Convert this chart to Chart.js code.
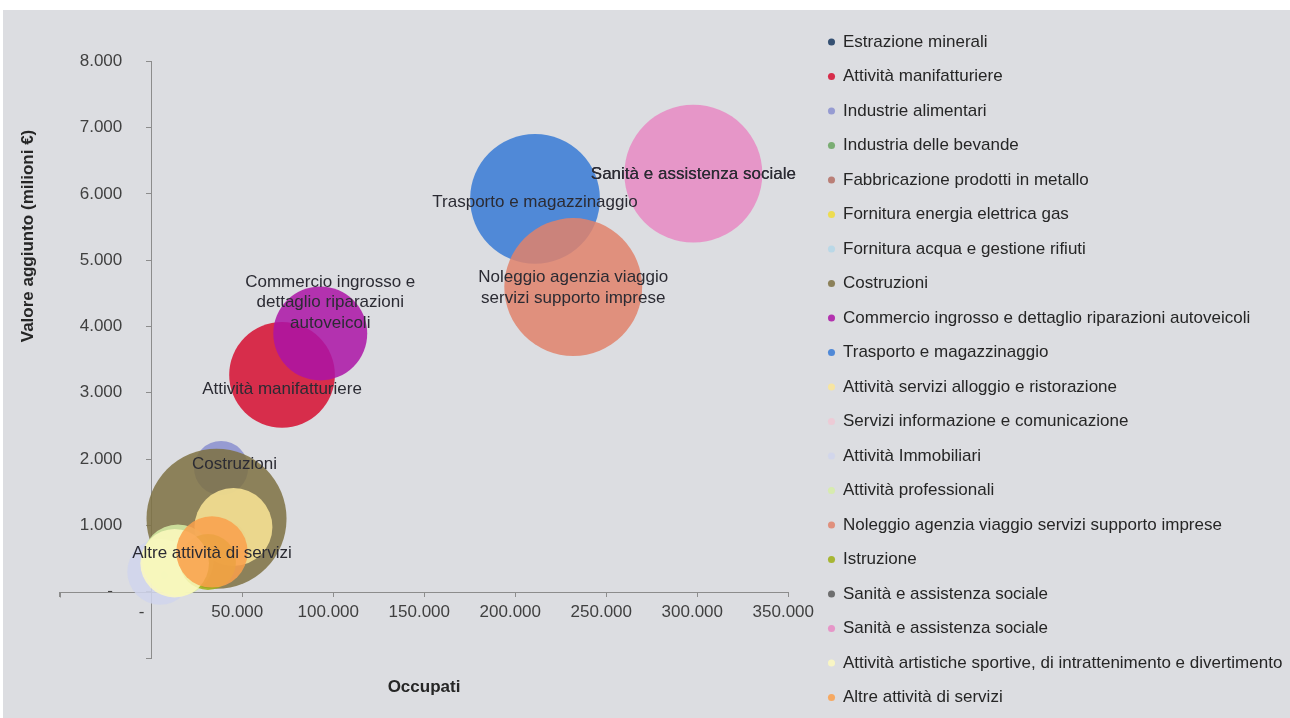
<!DOCTYPE html>
<html>
<head>
<meta charset="utf-8">
<script src="https://cdn.jsdelivr.net/npm/chart.js@4.4.1/dist/chart.umd.min.js"></script>
<style>
html,body{margin:0;padding:0;background:#ffffff;}
canvas{display:block;}
</style>
</head>
<body>
<canvas id="c" width="1290" height="718"></canvas>
<script>
// ---------------- data ----------------
const categories = [
  'Estrazione minerali',
  'Attività manifatturiere',
  'Industrie alimentari',
  'Industria delle bevande',
  'Fabbricazione prodotti in metallo',
  'Fornitura energia elettrica gas',
  'Fornitura acqua e gestione rifiuti',
  'Costruzioni',
  'Commercio ingrosso e dettaglio riparazioni autoveicoli',
  'Trasporto e magazzinaggio',
  'Attività servizi alloggio e ristorazione',
  'Servizi informazione e comunicazione',
  'Attività Immobiliari',
  'Attività professionali',
  'Noleggio agenzia viaggio servizi supporto imprese',
  'Istruzione',
  'Sanità e assistenza sociale',
  'Sanità e assistenza sociale',
  'Attività artistiche sportive, di intrattenimento e divertimento',
  'Altre attività di servizi'
];
// Occupati (x)
const occupati = [7700, 72000, 38500, 10400, 42300, 21500, 18500, 36000, 93000, 211000,
                  45300, 18500, 5000, 14800, 232000, 31300, 298000, 298000, 13000, 33500];
// Valore aggiunto, milioni € (y)
const valoreAggiunto = [250, 3270, 1865, 175, 780, 780, 330, 1100, 3895, 5925,
                        975, 475, 300, 475, 4595, 448, 6305, 6305, 430, 600];
// Bubble size (relative)
const dimensione = [0.4, 57, 15, 0.4, 6.6, 3, 4, 100, 45, 86,
                    31, 10, 22, 26, 97, 16, 0, 97, 24, 26];
// tick values
const xTickValues = [-50000, 0, 50000, 100000, 150000, 200000, 250000, 300000, 350000];
const yTickValues = [-1000, 0, 1000, 2000, 3000, 4000, 5000, 6000, 7000, 8000];
// axis titles
const xTitle = 'Occupati';
const yTitle = 'Valore aggiunto (milioni €)';
// series whose bubble carries a data label
const labelledSeries = [1, 7, 8, 9, 14, 16, 17, 19];

// ---------------- styles ----------------
const colors = [
  'rgba(23,55,94,0.85)',   'rgba(214,14,48,0.85)',   'rgba(137,143,207,0.85)', 'rgba(105,165,95,0.85)',
  'rgba(180,110,100,0.85)','rgba(240,220,55,0.85)',  'rgba(180,215,232,0.85)', 'rgba(126,113,66,0.85)',
  'rgba(172,20,166,0.85)', 'rgba(55,122,213,0.85)',  'rgba(252,230,150,0.85)', 'rgba(240,200,212,0.85)',
  'rgba(208,213,236,0.85)','rgba(214,237,166,0.85)', 'rgba(225,131,107,0.85)', 'rgba(158,175,20,0.85)',
  'rgba(90,90,90,0.85)',   'rgba(231,137,195,0.85)', 'rgba(253,249,190,0.85)', 'rgba(250,160,75,0.85)'
];
const MAX_RADIUS = 70;            // px radius of the largest bubble
const X_AXIS_MAX = 353846;        // room between last tick and legend
const labelOffsets = {1:[0,14], 7:[18,-54], 8:[10,-31], 9:[0,3], 14:[0,1], 16:[0,1], 17:[0,1], 19:[0,1]};
const labelWrap = {8:175, 14:195};
const FONT = "'Liberation Sans', Arial, Helvetica, sans-serif";
const AXIS_COLOR = '#8c8c8c';

function fmt(v) {
  return String(Math.abs(v)).replace(/\B(?=(\d{3})+(?!\d))/g, '.');
}

const datasets = categories.map((name, i) => ({
  label: name,
  data: [{x: occupati[i], y: valoreAggiunto[i], r: MAX_RADIUS * Math.sqrt(dimensione[i] / 100)}],
  backgroundColor: colors[i],
  borderWidth: 0,
  hoverBorderWidth: 0,
  clip: false,
  order: -i
}));

Chart.defaults.font.family = FONT;
Chart.defaults.font.size = 17;
Chart.defaults.color = '#404040';

const bgPlugin = {
  id: 'bg',
  beforeDraw(chart) {
    const ctx = chart.ctx;
    ctx.save();
    ctx.fillStyle = '#ffffff';
    ctx.fillRect(0, 0, chart.width, chart.height);
    ctx.fillStyle = '#dcdde1';
    ctx.fillRect(3, 10, chart.width - 3, chart.height - 10);
    ctx.restore();
  }
};

// horizontal axis line crossing at y = 0, running over the full tick range
const axisLinePlugin = {
  id: 'axisLine',
  beforeDatasetsDraw(chart) {
    const xs = chart.scales.x, ys = chart.scales.y, ctx = chart.ctx;
    const y0 = Math.round(ys.getPixelForValue(0)) + 0.5;
    ctx.save();
    ctx.strokeStyle = AXIS_COLOR;
    ctx.lineWidth = 1;
    ctx.beginPath();
    ctx.moveTo(xs.getPixelForValue(xTickValues[0]), y0);
    ctx.lineTo(xs.getPixelForValue(xTickValues[xTickValues.length - 1]), y0);
    // tick marks for ticks left of the vertical axis (outside the scale's own range)
    xTickValues.filter(v => v < xs.min).forEach(v => {
      const px = Math.round(xs.getPixelForValue(v)) + 0.5;
      ctx.moveTo(px, y0);
      ctx.lineTo(px, y0 + 5);
    });
    ctx.stroke();
    ctx.restore();
  }
};

function wrapText(ctx, text, maxW) {
  if (!maxW) return [text];
  const words = text.split(' ');
  const lines = [];
  let cur = '';
  words.forEach(w => {
    const t = cur ? cur + ' ' + w : w;
    if (cur && ctx.measureText(t).width > maxW) { lines.push(cur); cur = w; }
    else cur = t;
  });
  if (cur) lines.push(cur);
  return lines;
}

const labelPlugin = {
  id: 'bubbleLabels',
  afterDatasetsDraw(chart) {
    const ctx = chart.ctx;
    ctx.save();
    ctx.font = '17px ' + FONT;
    ctx.fillStyle = '#2b2b33';
    ctx.textAlign = 'center';
    ctx.textBaseline = 'middle';
    labelledSeries.forEach(i => {
      const el = chart.getDatasetMeta(i).data[0];
      if (!el) return;
      const off = labelOffsets[i] || [0, 0];
      const lines = wrapText(ctx, categories[i], labelWrap[i]);
      const lh = 20.5;
      const cy = el.y + off[1] - (lines.length - 1) * lh / 2;
      lines.forEach((ln, k) => ctx.fillText(ln, el.x + off[0], cy + k * lh));
    });
    ctx.restore();
  }
};

const axisTitlePlugin = {
  id: 'axisTitles',
  afterDraw(chart) {
    const ctx = chart.ctx;
    ctx.save();
    ctx.font = 'bold 17px ' + FONT;
    ctx.fillStyle = '#262626';
    ctx.textAlign = 'center';
    ctx.textBaseline = 'middle';
    ctx.fillText(xTitle, 424, 687);
    ctx.translate(28, 236);
    ctx.rotate(-Math.PI / 2);
    ctx.fillText(yTitle, 0, 0);
    ctx.restore();
  }
};

new Chart(document.getElementById('c'), {
  type: 'bubble',
  data: { datasets },
  plugins: [bgPlugin, axisLinePlugin, labelPlugin, axisTitlePlugin],
  options: {
    responsive: false,
    animation: false,
    devicePixelRatio: 1,
    layout: { autoPadding: false, padding: { left: 60, right: 0, top: 0, bottom: -22 } },
    scales: {
      x: {
        type: 'linear',
        position: { y: 0 },
        min: 0,
        max: X_AXIS_MAX,
        afterBuildTicks: s => { s.ticks = xTickValues.map(v => ({ value: v })); },
        afterFit: s => { s.height = 0; },
        border: { display: false },
        grid: { drawOnChartArea: false, drawTicks: true, tickLength: 5, color: AXIS_COLOR },
        ticks: {
          padding: 5,
          maxRotation: 0,
          autoSkip: false,
          color: '#404040',
          font: { size: 17 },
          callback: v => v < 0 ? '' : (v === 0 ? '-    ' : fmt(v) + '  ')
        }
      },
      y: {
        type: 'linear',
        position: 'left',
        min: yTickValues[0],
        max: yTickValues[yTickValues.length - 1],
        afterBuildTicks: s => { s.ticks = yTickValues.map(v => ({ value: v })); },
        afterFit: s => { s.width = 91; },
        border: { display: true, color: AXIS_COLOR, width: 1 },
        grid: { drawOnChartArea: false, drawTicks: true, tickLength: 5, color: AXIS_COLOR },
        ticks: {
          padding: 19,
          autoSkip: false,
          color: '#404040',
          font: { size: 17 },
          callback: v => v < 0 ? '' : (v === 0 ? '-   ' : fmt(v) + ' ')
        }
      }
    },
    plugins: {
      tooltip: { enabled: false },
      title: {
        display: true,
        text: '',
        font: { size: 1, lineHeight: 1 },
        padding: { top: 60.3, bottom: 0 }
      },
      subtitle: {
        display: true,
        position: 'bottom',
        text: '',
        font: { size: 1, lineHeight: 1 },
        padding: { top: 81, bottom: 0 }
      },
      legend: {
        position: 'right',
        align: 'start',
        maxWidth: 495,
        labels: {
          usePointStyle: true,
          pointStyle: 'circle',
          boxWidth: 6,
          boxHeight: 5,
          padding: 33.5,
          color: '#262626',
          font: { size: 17, lineHeight: '1px' },
          generateLabels(chart) {
            return chart.data.datasets.map((ds, i) => ({
              text: [ds.label],
              fillStyle: ds.backgroundColor,
              strokeStyle: ds.backgroundColor,
              lineWidth: 0,
              pointStyle: 'circle',
              fontColor: '#262626',
              hidden: !chart.isDatasetVisible(i),
              datasetIndex: i
            }));
          }
        }
      }
    }
  }
});
</script>
</body>
</html>
